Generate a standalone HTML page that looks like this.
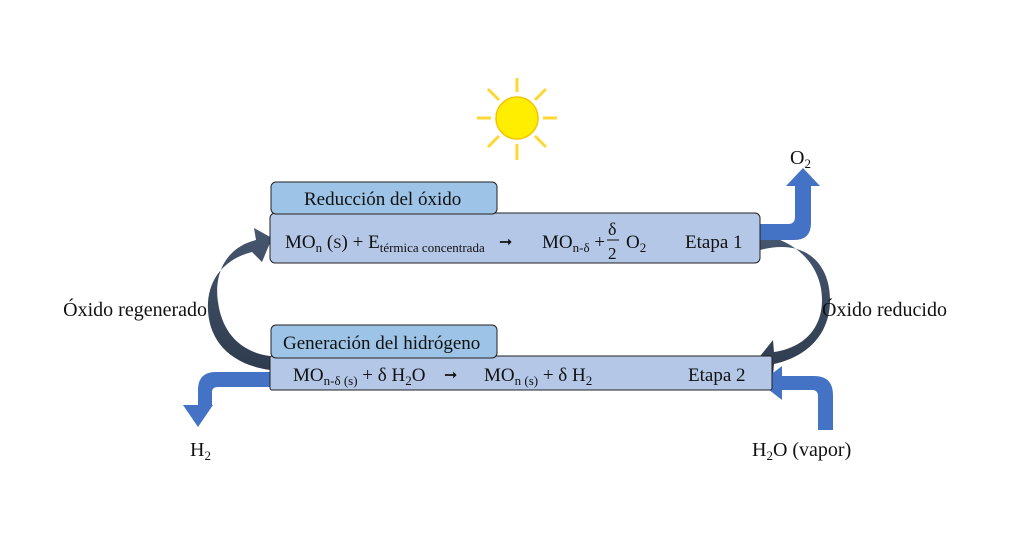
<!DOCTYPE html>
<html><head><meta charset="utf-8"><style>
body{margin:0;background:#fff;}
svg{display:block;font-family:"Liberation Serif",serif;}
</style></head><body>
<svg width="1024" height="536" viewBox="0 0 1024 536">
<defs>
<linearGradient id="dg" x1="0" y1="0" x2="0" y2="1"><stop offset="0" stop-color="#46566e"/><stop offset="1" stop-color="#2f3c4f"/></linearGradient>
</defs>
<g stroke="#fdd835" stroke-width="3">
<line x1="517" y1="92" x2="517" y2="78"/><line x1="517" y1="144" x2="517" y2="160"/>
<line x1="491" y1="118" x2="477" y2="118"/><line x1="543" y1="118" x2="557" y2="118"/>
<line x1="499" y1="100" x2="488" y2="89"/><line x1="535" y1="100" x2="546" y2="89"/>
<line x1="499" y1="136" x2="488" y2="147"/><line x1="535" y1="136" x2="546" y2="147"/>
</g>
<circle cx="517" cy="118" r="21" fill="#ffee00" stroke="#f5c400" stroke-width="1.5"/>

<path d="M270,370 C228,364 206,338 208,302 C210,275 228,258 252,252 L262,262 L272,238 L254,228 L256,240 C224,248 214,276 218,302 C222,332 240,352 270,356 Z" fill="url(#dg)"/>
<path d="M760,234 C802,242 822,270 822,300 C822,330 802,348 774,352 L773,340 L757,360 L773,376 L774,364 C810,356 830,332 830,300 C830,264 806,238 760,250 Z" fill="url(#dg)"/>

<path d="M758,224 L788,224 Q795,224 795,217 L795,186 L786,186 L803,168 L820,186 L811,186 L811,223 Q811,240 794,240 L758,240 Z" fill="#4472c4"/>
<path d="M272,372 L216,372 Q198,372 198,390 L198,405 L183,405 L198,427 L213,405 L212,405 L212,392 Q212,387 218,387 L272,387 Z" fill="#4472c4"/>
<path d="M833,430 L818,430 L818,396 Q818,390 812,390 L782,390 L782,400 L760,383 L782,366 L782,376 L814,376 Q833,376 833,395 Z" fill="#4472c4"/>

<rect x="270" y="213" width="490" height="50" rx="5" fill="#b4c7e7" stroke="#222" stroke-width="1"/>
<rect x="271" y="182" width="226" height="32" rx="5" fill="#9dc3e6" stroke="#222" stroke-width="1"/>
<rect x="270" y="356" width="502" height="34" rx="2" fill="#b4c7e7" stroke="#222" stroke-width="1"/>
<rect x="271" y="325" width="226" height="33" rx="5" fill="#9dc3e6" stroke="#222" stroke-width="1"/>

<g font-size="19" fill="#111">
<text x="304" y="205">Reducción del óxido</text>
<text x="283" y="349">Generación del hidrógeno</text>
<text x="285" y="248">MO<tspan font-size="13" dy="4">n</tspan><tspan dy="-4"> (</tspan><tspan font-size="15">S</tspan>) + E<tspan font-size="13" dy="4">térmica concentrada</tspan></text>
<text x="499" y="247" font-size="16">➞</text>
<text x="542" y="248">MO<tspan font-size="13" dy="4">n-δ</tspan><tspan dy="-4"> +</tspan></text>
<text x="608" y="235" font-size="18">δ</text>
<line x1="607" y1="240" x2="619" y2="240" stroke="#111" stroke-width="1"/>
<text x="608" y="259" font-size="17">2</text>
<text x="626" y="248">O<tspan font-size="13" dy="4">2</tspan></text>
<text x="685" y="248">Etapa 1</text>
<text x="293" y="381">MO<tspan font-size="13" dy="4">n-δ (s)</tspan><tspan dy="-4"> + δ H</tspan><tspan font-size="13" dy="4">2</tspan><tspan dy="-4">O</tspan></text>
<text x="444" y="380" font-size="16">➞</text>
<text x="484" y="381">MO<tspan font-size="13" dy="4">n (s)</tspan><tspan dy="-4"> + δ H</tspan><tspan font-size="13" dy="4">2</tspan></text>
<text x="688" y="381">Etapa 2</text>
</g>
<g font-size="20" fill="#111">
<text x="207" y="316" text-anchor="end">Óxido regenerado</text>
<text x="822" y="316">Óxido reducido</text>
<text x="790" y="164">O<tspan font-size="13" dy="4">2</tspan></text>
<text x="190" y="456">H<tspan font-size="13" dy="4">2</tspan></text>
<text x="752" y="456">H<tspan font-size="13" dy="4">2</tspan><tspan dy="-4">O (vapor)</tspan></text>
</g>
</svg>
</body></html>
